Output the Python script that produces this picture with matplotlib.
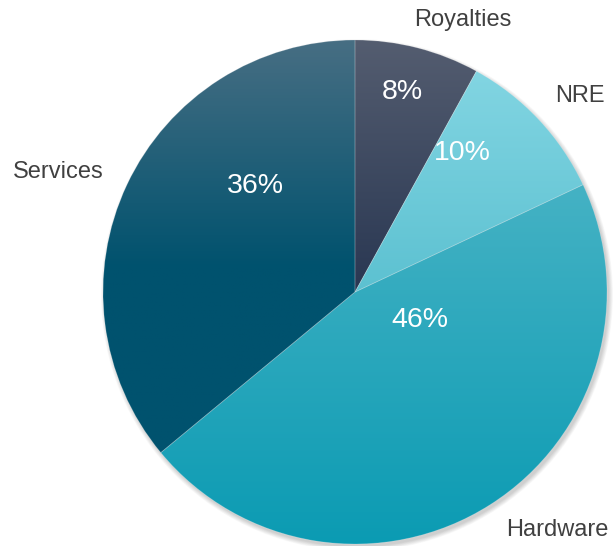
import numpy as np
import matplotlib.pyplot as plt
from matplotlib.colors import LinearSegmentedColormap

# revenue split
categories = ['Royalties', 'NRE', 'Hardware', 'Services']
shares = [8, 10, 46, 36]

# vertical gradient per slice: (top colour, bottom colour, where the bottom colour is reached)
gradients = [
    ('#545d70', '#293752', 1.0),
    ('#82d5e2', '#5cc1d1', 1.0),
    ('#45b2c4', '#0b9bb3', 1.0),
    ('#476e83', '#00526e', 0.55),
]

# label placement in pixel coords (x, y from top)
name_pos = [(463, 20), (580, 96), (557, 530), (58, 172)]
pct_pos = [(402, 92), (462, 153), (420, 320), (255, 186)]

W, H = 613, 546
cx, cy, R = 355, 292, 252

fig = plt.figure(figsize=(W / 100, H / 100), dpi=100)
ax = fig.add_axes([0, 0, 1, 1])

# soft drop shadow under the pie
for i in range(8):
    sh = plt.Circle((cx + 2, H - cy - 3), R + 4 - i * 0.6, color='black',
                    alpha=0.025, lw=0, zorder=0)
    ax.add_patch(sh)

wedges, _ = ax.pie(shares, startangle=90, counterclock=False, radius=R,
                   center=(cx, H - cy), frame=True,
                   wedgeprops=dict(linewidth=0.6, edgecolor=(1, 1, 1, 0.2)))
ax.set_xlim(0, W)
ax.set_ylim(0, H)
ax.set_aspect('equal')
ax.axis('off')

for w, (top, bot, stop) in zip(wedges, gradients):
    w.set_facecolor('none')
    bb = w.get_path().get_extents(w.get_patch_transform())
    cmap = LinearSegmentedColormap.from_list('g', [(0, top), (stop, bot), (1, bot)])
    grad = np.linspace(0, 1, 256).reshape(-1, 1)
    im = ax.imshow(grad, cmap=cmap, aspect='auto', origin='upper',
                   extent=[bb.x0, bb.x1, bb.y0, bb.y1], zorder=1)
    im.set_clip_path(w)
    w.set_zorder(2)

font = 'Liberation Sans'
for name, (x, y) in zip(categories, name_pos):
    ax.text(x, H - y, name, ha='center', va='center', fontsize=17,
            color='#404040', family=font)
for s, (x, y) in zip(shares, pct_pos):
    ax.text(x, H - y, f'{s}%', ha='center', va='center', fontsize=20.5,
            color='white', family=font, zorder=3)

fig.savefig('out.png', dpi=100)
